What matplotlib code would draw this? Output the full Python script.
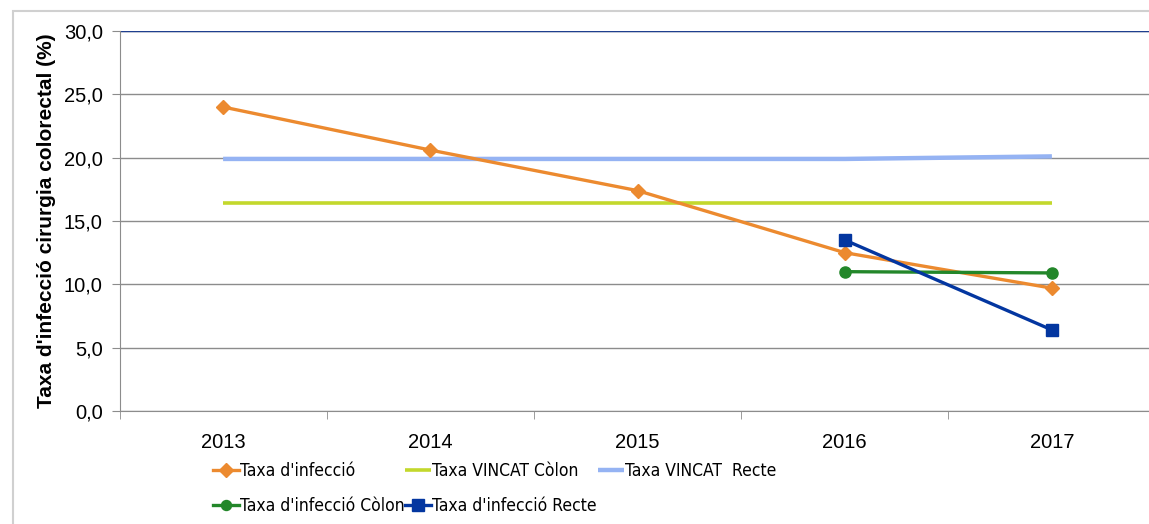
import numpy as np
import matplotlib.pyplot as plt
from matplotlib import font_manager as fm
from matplotlib.patches import Rectangle
from matplotlib.ticker import FixedLocator, FuncFormatter

plt.rcParams['font.family'] = ['Liberation Sans', 'DejaVu Sans']

years = ['2013', '2014', '2015', '2016', '2017']
taxa_infeccio = [24.0, 20.6, 17.4, 12.5, 9.7]
vincat_colon = [16.4, 16.4, 16.4, 16.4, 16.4]
vincat_recte = [19.9, 19.9, 19.9, 19.9, 20.1]
infeccio_colon = [np.nan, np.nan, np.nan, 11.0, 10.9]
infeccio_recte = [np.nan, np.nan, np.nan, 13.5, 6.4]

# legend text in the original is a narrow face; use one if there is one
narrow_file = None
for key in ['LiberationSansNarrow-Regular', 'DejaVuSansCondensed.ttf', 'RobotoCondensed-Regular']:
    hits = [f.fname for f in fm.fontManager.ttflist if key in f.fname]
    if hits:
        narrow_file = hits[0]
        break
if narrow_file:
    leg_font = fm.FontProperties(fname=narrow_file, size=12.5)
else:
    leg_font = fm.FontProperties(family='Liberation Sans', size=11)

W, H = 1149, 524
fig = plt.figure(figsize=(W / 100, H / 100), dpi=100)

# outer chart border (cut off at right/bottom in the original)
fig.patches.append(Rectangle((12.5 / W, -0.1), 1.2, 1 - 11.5 / H + 0.1,
                             transform=fig.transFigure, fill=False,
                             edgecolor='#d0d0d0', linewidth=1.5))

left, right = 119.5, 1155.5
top, bottom = 31, 411
ax = fig.add_axes([left / W, 1 - bottom / H, (right - left) / W, (bottom - top) / H])

x = np.arange(len(years))

ax.plot(x, vincat_recte, color='#95b3f3', lw=3.2, solid_capstyle='butt', zorder=3)
ax.plot(x, vincat_colon, color='#c3d82c', lw=2.6, solid_capstyle='butt', zorder=3)
ax.plot(x, taxa_infeccio, color='#ec8a2f', lw=2.4, marker='D', ms=7.5, zorder=4)
ax.plot(x, infeccio_colon, color='#23872a', lw=2.4, marker='o', ms=8, zorder=4)
ax.plot(x, infeccio_recte, color='#0336a0', lw=2.4, marker='s', ms=9, zorder=5)

ax.set_xlim(-0.5, 4.5)
ax.set_ylim(0, 30)
ax.set_yticks(np.arange(0, 31, 5))
ax.yaxis.set_major_formatter(FuncFormatter(lambda v, p: f'{v:.1f}'.replace('.', ',')))
ax.grid(axis='y', color='#8c8c8c', lw=1.0)
ax.axhline(30, color='#1f3f8f', lw=1.0, zorder=2)

ax.set_xticks(x)
ax.set_xticklabels(years)
ax.xaxis.set_minor_locator(FixedLocator(np.arange(-0.5, 5, 1)))
ax.tick_params(axis='x', which='major', length=0, pad=16, labelsize=14.5)
ax.tick_params(axis='x', which='minor', length=6, color='#8c8c8c')
ax.tick_params(axis='y', length=6, color='#8c8c8c', pad=6, labelsize=14.5)

for s in ['top', 'right']:
    ax.spines[s].set_visible(False)
ax.spines['left'].set_color('#8c8c8c')
ax.spines['bottom'].set_color('#8c8c8c')

ax.set_ylabel("Taxa d'infecció cirurgia colorectal (%)", fontsize=15,
              fontweight='bold', labelpad=6)

lines = ax.get_lines()
labels = ["Taxa d'infecció", "Taxa VINCAT Còlon", "Taxa VINCAT  Recte",
          "Taxa d'infecció Còlon", "Taxa d'infecció Recte"]
handles = [lines[2], lines[1], lines[0], lines[3], lines[4]]
order = [0, 3, 1, 4, 2]
fig.legend([handles[i] for i in order], [labels[i] for i in order],
           loc='upper left', bbox_to_anchor=(213 / W, 1 - 462 / H),
           ncol=3, frameon=False, prop=leg_font,
           handlelength=1.5, handletextpad=0.05, columnspacing=0.05,
           labelspacing=1.0, borderpad=0, borderaxespad=0, markerscale=0.9)

fig.savefig('out.png', dpi=100)
